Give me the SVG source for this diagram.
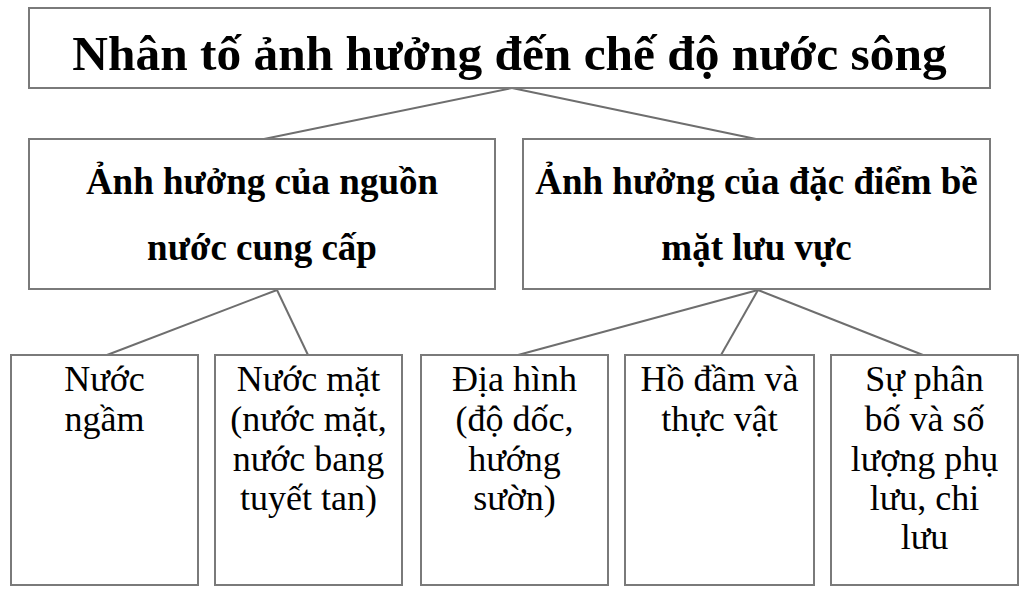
<svg xmlns="http://www.w3.org/2000/svg" width="1028" height="600" viewBox="0 0 1028 600">
<style>
.box{fill:#fff;stroke:#7a7a7a;stroke-width:2}
.ln{stroke:#6e6e6e;stroke-width:2;fill:none}
text{font-family:"Liberation Serif","Times New Roman",serif;fill:#000;text-anchor:middle}
.t0{font-size:49.4px;font-weight:bold}
.t1{font-size:37px;font-weight:bold}
.t2{font-size:36px}
</style>
<rect width="1028" height="600" fill="#fff"/>
<g id="connectors">
<line class="ln" x1="512" y1="88" x2="264" y2="139"/>
<line class="ln" x1="512" y1="88" x2="756" y2="139"/>
<line class="ln" x1="277" y1="290" x2="107" y2="355"/>
<line class="ln" x1="277" y1="290" x2="308" y2="355"/>
<line class="ln" x1="758" y1="290" x2="518" y2="355"/>
<line class="ln" x1="758" y1="290" x2="721" y2="355"/>
<line class="ln" x1="758" y1="290" x2="923" y2="355"/>
</g>
<g id="root">
<rect class="box" x="29" y="8" width="961" height="80"/>
<text class="t0" x="509.5" y="70">Nhân tố ảnh hưởng đến chế độ nước sông</text>
</g>
<g id="nguon">
<rect class="box" x="29" y="139" width="466" height="150"/>
<text class="t1" x="262" y="194">Ảnh hưởng của nguồn</text>
<text class="t1" x="262" y="260">nước cung cấp</text>
</g>
<g id="bemat">
<rect class="box" x="523" y="139" width="467" height="150"/>
<text class="t1" x="756.5" y="194">Ảnh hưởng của đặc điểm bề</text>
<text class="t1" x="756.5" y="260">mặt lưu vực</text>
</g>
<g id="ngam">
<rect class="box" x="11" y="355" width="187" height="230"/>
<text class="t2" x="104.5" y="391">Nước</text>
<text class="t2" x="104.5" y="431">ngầm</text>
</g>
<g id="mat">
<rect class="box" x="215" y="355" width="187" height="230"/>
<text class="t2" x="308.5" y="391">Nước mặt</text>
<text class="t2" x="308.5" y="431">(nước mặt,</text>
<text class="t2" x="308.5" y="471">nước bang</text>
<text class="t2" x="308.5" y="510">tuyết tan)</text>
</g>
<g id="diahinh">
<rect class="box" x="421" y="355" width="187" height="230"/>
<text class="t2" x="514.5" y="391">Địa hình</text>
<text class="t2" x="514.5" y="431">(độ dốc,</text>
<text class="t2" x="514.5" y="471">hướng</text>
<text class="t2" x="514.5" y="510">sườn)</text>
</g>
<g id="hodam">
<rect class="box" x="625" y="355" width="189" height="230"/>
<text class="t2" x="719.5" y="391">Hồ đầm và</text>
<text class="t2" x="719.5" y="431">thực vật</text>
</g>
<g id="phuluu">
<rect class="box" x="831" y="355" width="187" height="230"/>
<text class="t2" x="924.5" y="391">Sự phân</text>
<text class="t2" x="924.5" y="431">bố và số</text>
<text class="t2" x="924.5" y="471">lượng phụ</text>
<text class="t2" x="924.5" y="510">lưu, chi</text>
<text class="t2" x="924.5" y="549">lưu</text>
</g>
</svg>
